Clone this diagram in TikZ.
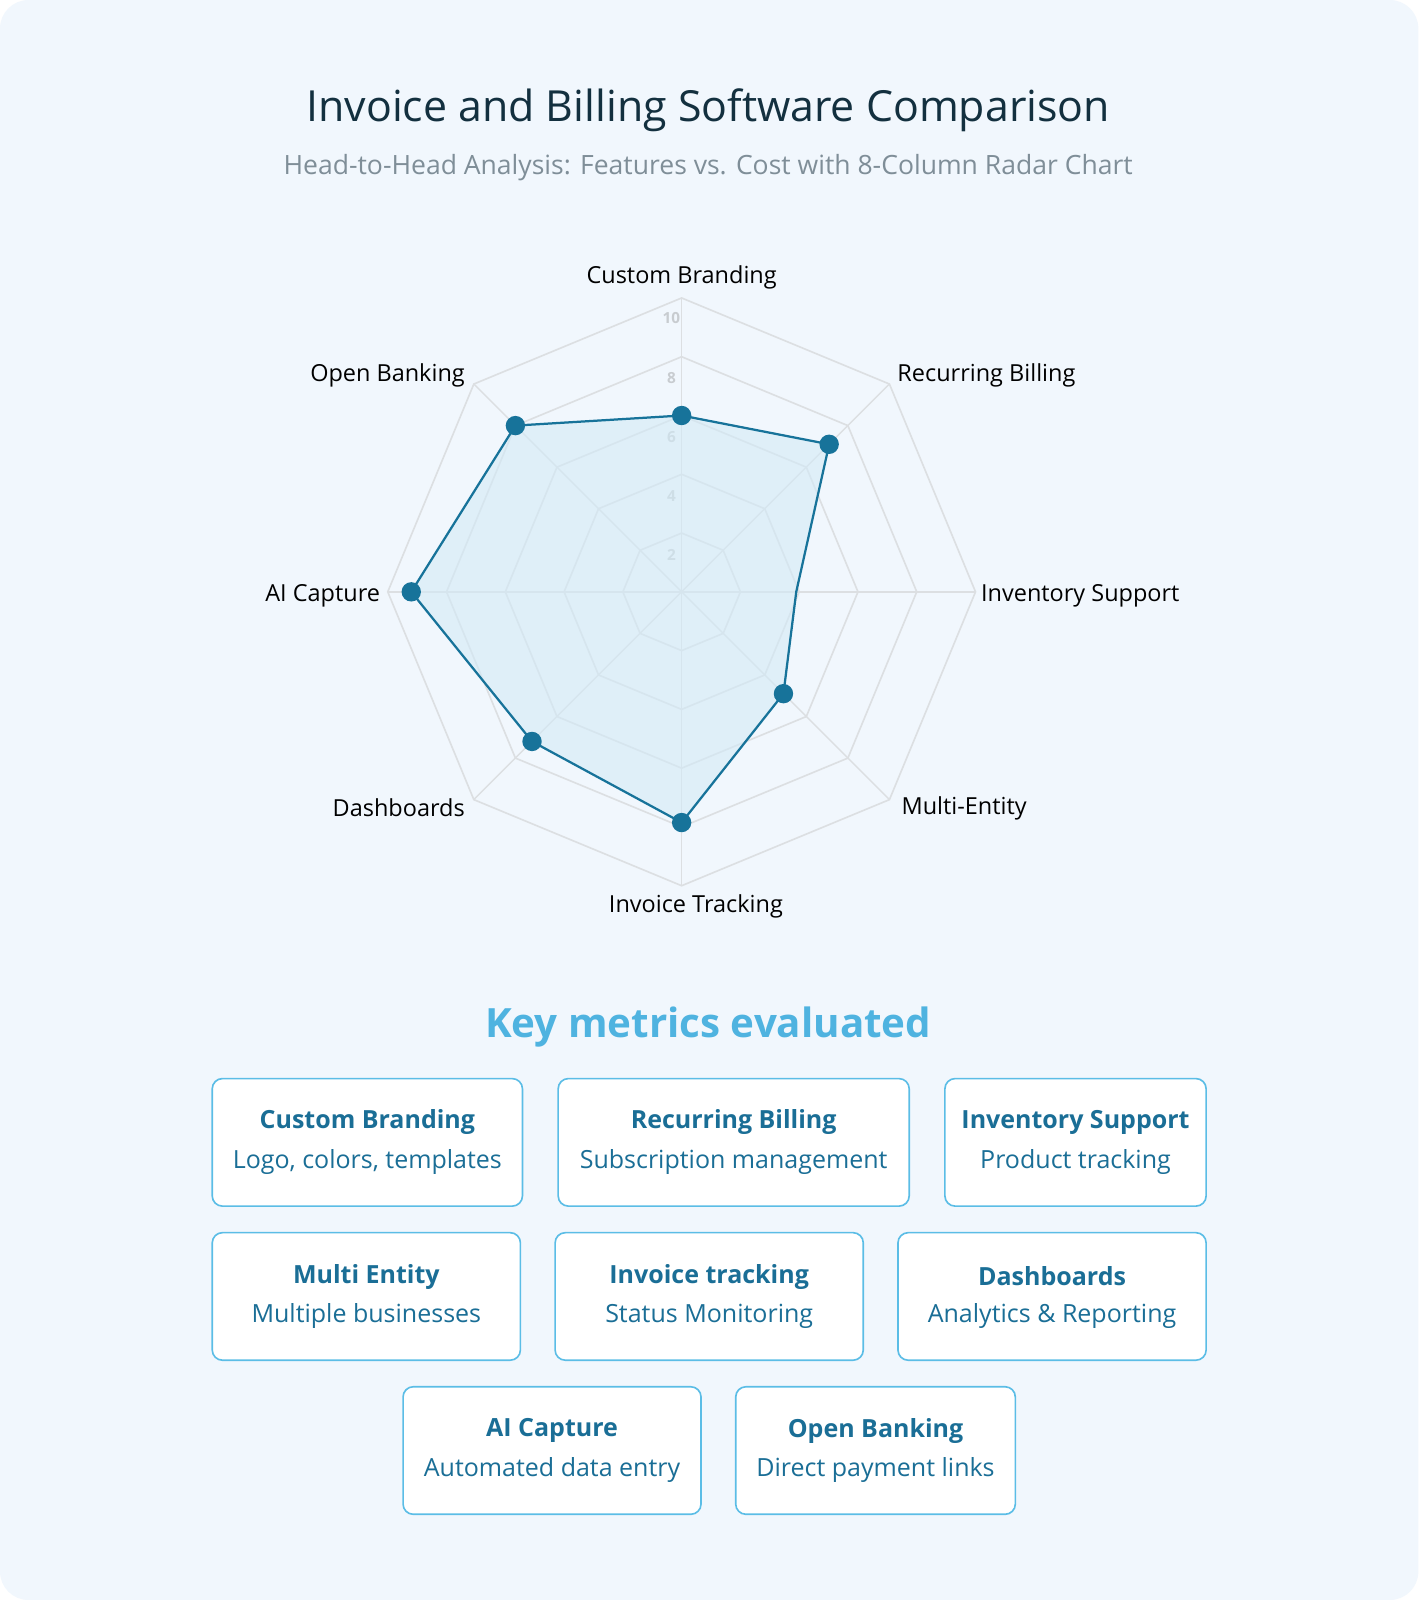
\documentclass[tikz,border=0pt]{standalone}
\usepackage{fontspec}
\setmainfont{Open Sans}
\usetikzlibrary{calc}
\definecolor{bgc}{HTML}{F1F7FD}
\definecolor{titlec}{HTML}{13303F}
\definecolor{subc}{HTML}{7F8E98}
\definecolor{gridc}{HTML}{DCDFE2}
\definecolor{tickc}{HTML}{C8CCD0}
\definecolor{polyc}{HTML}{17739A}
\definecolor{polyfill}{HTML}{D3EAF6}
\definecolor{keyc}{HTML}{4FB3E0}
\definecolor{cardb}{HTML}{5BBDE6}
\definecolor{cardt}{HTML}{1A6E96}
\tikzset{
  axlabel/.style={font=\fontsize{23}{27}\selectfont, text=black},
  ticklabel/.style={font=\fontsize{15}{18}\selectfont\bfseries, text=tickc},
  card/.style={draw=cardb, line width=1.6pt, fill=white, rounded corners=10pt},
  cardtitle/.style={font=\fontsize{24.5}{28}\selectfont\bfseries, text=cardt},
  cardsub/.style={font=\fontsize{24.5}{28}\selectfont, text=cardt},
  dot/.style={circle, fill=polyc, inner sep=0pt, minimum size=19pt}
}
\begin{document}
\begin{tikzpicture}[x=1pt,y=-1pt]
\useasboundingbox (0,0) rectangle (1390,1568);
\fill[white] (0,0) rectangle (1390,1568);
\fill[bgc, rounded corners=28pt] (0,0) rectangle (1390,1568);
\node[font=\fontsize{42}{48}\selectfont, text=titlec] (title) at (694,108) {Invoice and Billing Software Comparison};
\node[font=\fontsize{26}{30}\selectfont, text=subc] (subtitle) at (694,164) {Head-to-Head Analysis: Features vs. Cost with 8-Column Radar Chart};
% radar
\coordinate (C) at (668,580);
\foreach \r in {1,...,5}{
  \draw[gridc, line width=1.6pt] ($(C)+(90:{57.6*\r pt})$)
   \foreach \a in {45,0,-45,-90,-135,180,135}{ -- ($(C)+(\a:{57.6*\r pt})$)} -- cycle;
}
\foreach \a in {90,45,0,-45,-90,-135,180,135}{
  \draw[gridc, line width=1.4pt] (C) -- ($(C)+(\a:288pt)$);
}
\foreach \v/\y in {10/312,8/370,6/428,4/486,2/544}{
  \node[ticklabel] (t\v) at (658,\y) {\v};
}
\coordinate (p1) at ($(C)+(90:{28.8*6 pt})$);
\coordinate (p2) at ($(C)+(45:{28.8*7.1 pt})$);
\coordinate (p3) at ($(C)+(0:{28.8*3.9 pt})$);
\coordinate (p4) at ($(C)+(-45:{28.8*4.9 pt})$);
\coordinate (p5) at ($(C)+(-90:{28.8*7.85 pt})$);
\coordinate (p6) at ($(C)+(-135:{28.8*7.2 pt})$);
\coordinate (p7) at ($(C)+(180:{28.8*9.2 pt})$);
\coordinate (p8) at ($(C)+(135:{28.8*8 pt})$);
\draw[polyc, line width=2.2pt, fill=polyfill, fill opacity=0.6, line join=round]
  (p1) -- (p2) -- (p3) -- (p4) -- (p5) -- (p6) -- (p7) -- (p8) -- cycle;
\foreach \i in {1,2,4,5,6,7,8}{ \node[dot] (d\i) at (p\i) {}; }
\node[axlabel] (l1) at (668,272) {Custom Branding};
\node[axlabel, anchor=west] (l2) at (876,368) {Recurring Billing};
\node[axlabel, anchor=west] (l3) at (958,584) {Inventory Support};
\node[axlabel, anchor=west] (l4) at (880,792) {Multi-Entity};
\node[axlabel] (l5) at (682,888) {Invoice Tracking};
\node[axlabel, anchor=east] (l6) at (459,792) {Dashboards};
\node[axlabel, anchor=east] (l7) at (376,584) {AI Capture};
\node[axlabel, anchor=east] (l8) at (459,368) {Open Banking};
% key metrics
\node[font=\fontsize{39.5}{45}\selectfont\bfseries, text=keyc] (key) at (694,1006) {Key metrics evaluated};
\foreach \n/\xa/\xb/\ya/\t/\s in {
  c1/208/512/1057/Custom Branding/{Logo, colors, templates},
  c2/547/891/1057/Recurring Billing/Subscription management,
  c3/926/1182/1057/Inventory Support/Product tracking,
  c4/208/510/1208/Multi Entity/Multiple businesses,
  c5/544/846/1208/Invoice tracking/Status Monitoring,
  c6/880/1182/1208/Dashboards/Analytics \& Reporting,
  c7/395/687/1359/AI Capture/Automated data entry,
  c8/721/995/1359/Open Banking/Direct payment links}{
  \draw[card] (\xa,\ya) rectangle (\xb,\ya+125);
  \node[cardtitle] (\n t) at ({(\xa+\xb)/2},\ya+43) {\t};
  \node[cardsub] (\n s) at ({(\xa+\xb)/2},\ya+82) {\s};
}
\end{tikzpicture}
\end{document}
